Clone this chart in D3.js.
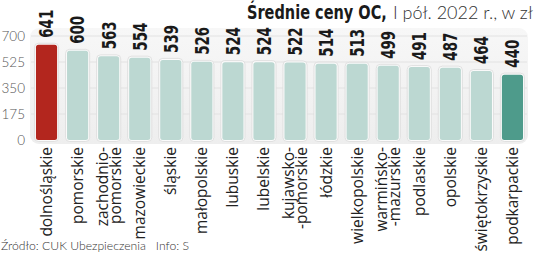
<!DOCTYPE html>
<html><head><meta charset="utf-8">
<script src="https://cdn.jsdelivr.net/npm/d3@7/dist/d3.min.js"></script>
<style>html,body{margin:0;padding:0;background:#fff;overflow:hidden}</style>
</head><body>
<svg id="c" width="536" height="255"></svg>
<script>
const categories = [["dolnośląskie"],["pomorskie"],["zachodnio-","pomorskie"],["mazowieckie"],["śląskie"],["małopolskie"],["lubuskie"],["lubelskie"],["kujawsko-","-pomorskie"],["łódzkie"],["wielkopolskie"],["warmińsko-","-mazurskie"],["podlaskie"],["opolskie"],["świętokrzyskie"],["podkarpackie"]];
const values = [641,600,563,554,539,526,524,524,522,514,513,499,491,487,464,440];
const yTicks = [0,175,350,525,700];
const titleBold = "Średnie ceny OC,";
const titleLight = "I pół. 2022 r., w zł";
const source = "Źródło: CUK Ubezpieczenia   Info: S";

const svg = d3.select("#c");
const keys = categories.map(c => c.join(" "));
const x = d3.scaleBand().domain(keys).range([31, 528]).paddingInner(0.32).paddingOuter(0.16);
const y = d3.scaleLinear().domain([0, 700]).range([140, 36]);

const colorFor = i => i === 0 ? "#b3261e" : (i === values.length - 1 ? "#4e9b8b" : "#bcd8d2");
const condensed = "'Liberation Sans Narrow','DejaVu Sans Condensed',sans-serif";

// panel
const defs = svg.append("defs");
const g = defs.append("linearGradient").attr("id","pg").attr("x1",0).attr("x2",0).attr("y1",0).attr("y2",1);
g.append("stop").attr("offset","0%").attr("stop-color","#f7f7f7");
g.append("stop").attr("offset","100%").attr("stop-color","#eeeeee");
svg.append("rect").attr("x",30).attr("y",28).attr("width",498).attr("height",116).attr("rx",9).attr("fill","url(#pg)");

// grid
svg.append("g").selectAll("line").data(yTicks.slice(1)).join("line")
  .attr("x1",31).attr("x2",527).attr("y1",d=>y(d)).attr("y2",d=>y(d))
  .attr("stroke","#e2e2e2").attr("stroke-width",1);

// y axis labels
const yAxis = d3.axisLeft(y).tickValues(yTicks).tickSize(0).tickPadding(0);
const ya = svg.append("g").attr("transform","translate(25,0)").call(yAxis);
ya.select(".domain").remove();
ya.selectAll("text").attr("font-family","Lato, 'Open Sans', sans-serif").attr("font-weight",300)
  .attr("font-size",13.5).attr("fill","#555");

// bars
const bars = svg.append("g").selectAll("g").data(values).join("g");
bars.append("rect")
  .attr("x",(d,i)=>x(keys[i])-1.5).attr("width",x.bandwidth()+3)
  .attr("y",d=>y(d)-1.5).attr("height",d=>y(0)-y(d)+3)
  .attr("rx",4).attr("fill","#fbfbfb").attr("stroke","#dadada").attr("stroke-width",0.8);
bars.append("rect")
  .attr("x",(d,i)=>x(keys[i])).attr("width",x.bandwidth())
  .attr("y",d=>y(d)).attr("height",d=>y(0)-y(d))
  .attr("rx",2.5).attr("fill",(d,i)=>colorFor(i));

// value labels (condensed by horizontal scaling)
const vl = svg.append("g").selectAll("text").data(values).join("text")
  .attr("dy","0.36em")
  .attr("font-family",condensed)
  .attr("font-weight","bold").attr("font-size",19).attr("fill","#1a1a1a")
  .text(d=>d);
vl.attr("transform",function(d,i){
  const w = this.getComputedTextLength();
  const s = Math.min(1, 28 / w);
  return `translate(${x(keys[i])+x.bandwidth()/2},${y(d)-7}) rotate(-90) scale(${s},1)`;
});

// category labels
const cl = svg.append("g").selectAll("text").data(categories).join("text")
  .attr("transform",(d,i)=>`translate(${x(keys[i])+x.bandwidth()/2},147) rotate(-90)`)
  .attr("text-anchor","end")
  .attr("font-family","'Open Sans', Lato, sans-serif").attr("font-size",15.5).attr("fill","#222");
cl.each(function(d){
  const t = d3.select(this);
  const off = d.length === 1 ? [0] : [-6.5, 6.5];
  d.forEach((line,j)=>{
    t.append("tspan").attr("x",0).attr("y",off[j]).attr("dy","0.35em").text(line);
  });
});

// title
const tb = svg.append("text").attr("x",0).attr("y",0).attr("font-size",20)
  .attr("font-family",condensed).attr("font-weight","bold").attr("fill","#1a1a1a").text(titleBold);
const sb = 140 / tb.node().getComputedTextLength();
tb.attr("transform",`translate(247,19) scale(${sb},1)`);
const tl = svg.append("text").attr("x",0).attr("y",0).attr("font-size",18.5)
  .attr("font-family","Lato, 'Open Sans', sans-serif").attr("font-weight",300).attr("fill","#333").text(titleLight);
const sl = Math.min(1, 140 / tl.node().getComputedTextLength());
tl.attr("transform",`translate(393,19) scale(${sl},1)`);

// source
svg.append("text").attr("x",1).attr("y",250).attr("font-family","Lato, 'Open Sans', sans-serif")
  .attr("font-weight",300).attr("font-size",12.2).attr("fill","#333")
  .attr("xml:space","preserve").style("white-space","pre").text(source);
</script>
</body></html>
